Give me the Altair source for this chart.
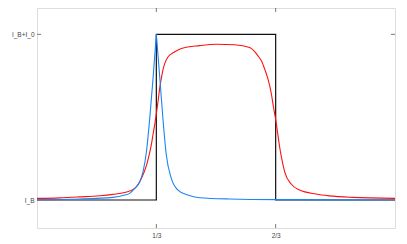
import altair as alt
import pandas as pd

# Square pulse (black)
pulse_x = [0.0, 1/3, 1/3, 2/3, 2/3, 1.0]
pulse_y = [0.0, 0.0, 1.0, 1.0, 0.0, 0.0]

# Red smoothed response
red_x = [0.0, 0.064, 0.120, 0.175, 0.212, 0.245, 0.273, 0.2916, 0.3060, 0.3152,
         0.3199, 0.3244, 0.3292, 0.3333, 0.3384, 0.3431, 0.3478, 0.3523, 0.3570,
         0.3662, 0.3849, 0.4036, 0.4547, 0.5013, 0.5523, 0.5941, 0.6081, 0.6173,
         0.6268, 0.6360, 0.6452, 0.6499, 0.6547, 0.6591, 0.6639, 0.6686, 0.6731,
         0.6778, 0.6826, 0.6918, 0.7105, 0.7336, 0.7791, 0.8162, 0.880, 1.0]
red_y = [0.01, 0.013, 0.019, 0.026, 0.034, 0.045, 0.07, 0.13, 0.21, 0.29,
         0.34, 0.40, 0.46, 0.52, 0.60, 0.68, 0.74, 0.79, 0.825,
         0.865, 0.895, 0.915, 0.932, 0.94, 0.937, 0.92, 0.895, 0.87,
         0.84, 0.79, 0.73, 0.69, 0.64, 0.58, 0.52, 0.46, 0.39,
         0.32, 0.26, 0.17, 0.095, 0.06, 0.036, 0.025, 0.016, 0.01]

# Blue spike (left flank and right flank share the peak)
blue_left_x = [0.0, 0.120, 0.212, 0.245, 0.259, 0.273, 0.2869, 0.2961, 0.3056, 0.3148, 0.3240, 0.3333]
blue_left_y = [0.002, 0.006, 0.016, 0.03, 0.04, 0.07, 0.11, 0.17, 0.29, 0.49, 0.73, 1.0]
blue_right_x = [0.3333, 0.3426, 0.3518, 0.3613, 0.3752, 0.3936, 0.4214, 0.454, 0.5376, 0.6769, 1.0]
blue_right_y = [1.0, 0.75, 0.49, 0.27, 0.13, 0.06, 0.03, 0.014, 0.006, 0.002, 0.0]

x_ticks = [1/3, 2/3]
x_labels = ["1/3", "2/3"]
y_ticks = [0.0, 1.0]
y_labels = ["I_B", "I_B+I_0"]

W, H = 358, 220
x_scale = alt.Scale(domain=[0, 1], nice=False, zero=False)
y_scale = alt.Scale(domain=[-0.169, 1.159], nice=False, zero=False)

x_label_expr = f"datum.value < 0.5 ? '{x_labels[0]}' : '{x_labels[1]}'"
y_label_expr = f"datum.value < 0.5 ? '{y_labels[0]}' : '{y_labels[1]}'"

axis_common = dict(grid=False, domain=False, ticks=False, labelFontSize=6.5,
                   labelColor="#444", labelFont="Liberation Sans", title=None)

x_enc = alt.X("x:Q", scale=x_scale,
              axis=alt.Axis(values=x_ticks, labelExpr=x_label_expr, labelPadding=4, **axis_common))
y_enc = alt.Y("y:Q", scale=y_scale,
              axis=alt.Axis(values=y_ticks, labelExpr=y_label_expr, labelPadding=3, **axis_common))

pulse_df = pd.DataFrame({"x": pulse_x, "y": pulse_y})
red_df = pd.DataFrame({"x": red_x, "y": red_y})
bl_df = pd.DataFrame({"x": blue_left_x, "y": blue_left_y})
br_df = pd.DataFrame({"x": blue_right_x, "y": blue_right_y})

pulse = alt.Chart(pulse_df).mark_line(color="#111", strokeWidth=1.2).encode(x=x_enc, y=y_enc)
red = alt.Chart(red_df).mark_line(color="#ff1010", strokeWidth=1.1, interpolate="monotone").encode(x=x_enc, y=y_enc)
blue_l = alt.Chart(bl_df).mark_line(color="#1a84f5", strokeWidth=1.1, interpolate="monotone").encode(x=x_enc, y=y_enc)
blue_r = alt.Chart(br_df).mark_line(color="#1a84f5", strokeWidth=1.1, interpolate="monotone").encode(x=x_enc, y=y_enc)

xt_df = pd.DataFrame({"x": x_ticks})
yt_df = pd.DataFrame({"y": y_ticks})
tick_color = "#777"
tb = alt.Chart(xt_df).mark_rule(color=tick_color, strokeWidth=1).encode(
    x=alt.X("x:Q", scale=x_scale), y=alt.value(H), y2=alt.value(H - 4))
tt = alt.Chart(xt_df).mark_rule(color=tick_color, strokeWidth=1).encode(
    x=alt.X("x:Q", scale=x_scale), y=alt.value(0), y2=alt.value(4))
tl = alt.Chart(yt_df).mark_rule(color=tick_color, strokeWidth=1).encode(
    y=alt.Y("y:Q", scale=y_scale), x=alt.value(0), x2=alt.value(4))
tr = alt.Chart(yt_df).mark_rule(color=tick_color, strokeWidth=1).encode(
    y=alt.Y("y:Q", scale=y_scale), x=alt.value(W), x2=alt.value(W - 4))

chart = alt.layer(pulse, red, blue_l, blue_r, tb, tt, tl, tr).properties(
    width=W, height=H,
    autosize=alt.AutoSizeParams(type="none"),
    padding={"left": 29, "top": 0, "right": 4, "bottom": 16},
).configure_view(stroke="#555", strokeWidth=1).configure(background="white")

chart.save("out.html", embed_options={"renderer": "svg", "actions": False})
